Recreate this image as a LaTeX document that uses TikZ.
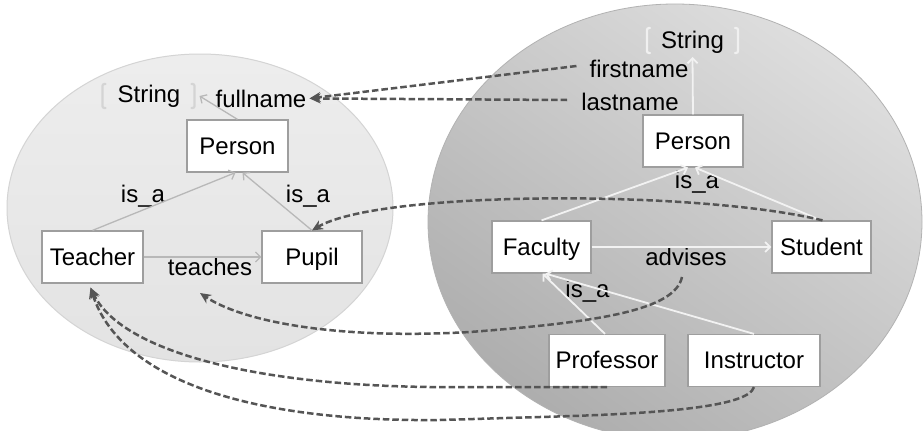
\documentclass[tikz,border=0pt]{standalone}
\usepackage{fontspec}
\setmainfont{Liberation Sans}
\usetikzlibrary{arrows.meta}
\definecolor{dashc}{HTML}{555555}
\begin{document}
\begin{tikzpicture}[x=1pt,y=-1pt,
  txt/.style={font=\fontsize{24}{28}\selectfont, inner sep=0pt},
  box/.style={txt, draw=black!38, line width=1.2pt, fill=white, minimum height=52pt, text height=21pt, text depth=5pt},
  lbl/.style={txt, anchor=base},
  ledge/.style={draw=black!28, line width=1.3pt, -{Straight Barb[length=5pt,width=10pt]}},
  redge/.style={draw=black!5, line width=1.8pt, -{Straight Barb[length=5pt,width=10pt]}},
  dlink/.style={draw=dashc, line width=2.5pt, dash pattern=on 6.5pt off 3pt, -{Stealth[length=11pt,width=10pt,inset=3.5pt]}},
  brk/.style={line width=2.2pt, line cap=round, rounded corners=2pt}
]
\useasboundingbox (0,0) rectangle (924,431);
\fill[white] (0,0) rectangle (924,431);

% ellipses
\shade[top color=black!7, bottom color=black!11, draw=black!17, line width=1pt] (200,208) ellipse [x radius=193, y radius=154];
\begin{scope}
\clip (0,0) rectangle (924,431);
\shade[top color=black!13, bottom color=black!32, shading angle=-35, draw=black!30, line width=0.8pt] (675,222) ellipse [x radius=247, y radius=218];
\end{scope}

% left nodes
\node[box, minimum width=101pt] (lperson) at (237.5,146) {Person};
\node[box, minimum width=101pt] (teacher) at (92.5,257) {Teacher};
\node[box, minimum width=100pt] (pupil) at (312,257) {Pupil};
\node[lbl] (lstring) at (149,102) {String};
\node[lbl] (fullname) at (261,107) {fullname};
\node[lbl] (isaL) at (143,202) {is\_a};
\node[lbl] (isaR) at (308,202) {is\_a};
\node[lbl] (teaches) at (210,275) {teaches};

% right nodes
\node[box, minimum width=100pt] (rperson) at (693,141) {Person};
\node[box, minimum width=99pt] (faculty) at (541.5,247) {Faculty};
\node[box, minimum width=99pt] (student) at (821.5,247) {Student};
\node[box, minimum width=116pt] (professor) at (607,360.5) {Professor};
\node[box, minimum width=132pt] (instructor) at (754,360.5) {Instructor};
\node[lbl] (rstring) at (692.5,48) {String};
\node[lbl] (firstname) at (639,77) {firstname};
\node[lbl] (lastname) at (630,110) {lastname};
\node[lbl] (isaP) at (697,188) {is\_a};
\node[lbl] (advises) at (686,265) {advises};
\node[lbl] (isaF) at (587.5,297) {is\_a};

% brackets round String
\draw[brk, draw=black!17] ([shift={(-12,-18)}]lstring.base west) -- ++(-3,0) -- ++(0,24) -- ++(3,0);
\draw[brk, draw=black!17] ([shift={(11,-18)}]lstring.base east) -- ++(3,0) -- ++(0,24) -- ++(-3,0);
\draw[brk, draw=black!6] ([shift={(-11,-20)}]rstring.base west) -- ++(-3,0) -- ++(0,25) -- ++(3,0);
\draw[brk, draw=black!6] ([shift={(11,-20)}]rstring.base east) -- ++(3,0) -- ++(0,25) -- ++(-3,0);

% left edges
\coordinate (lsr) at ([shift={(19,-6)}]lstring.base east);
\draw[ledge] (lperson.north) -- (lsr);
\draw[ledge] (teacher.north) -- ([shift={(-2,0)}]lperson.south);
\draw[ledge] (pupil.north) -- ([shift={(5,0)}]lperson.south);
\draw[ledge] (teacher.east) -- (pupil.west);

% right edges
\draw[redge] (rperson.north) -- ([shift={(0,9)}]rstring.base);
\draw[redge] (faculty.north) -- ([shift={(-5,0)}]rperson.south);
\draw[redge] (student.north) -- ([shift={(2,0)}]rperson.south);
\draw[redge] (faculty.east) -- (student.west);
\draw[redge] ([shift={(-2,0)}]professor.north) -- ([shift={(1,0)}]faculty.south);
\draw[redge] (instructor.north) -- ([shift={(4,0)}]faculty.south);

% dashed mappings
\draw[dlink] ([shift={(-13,-11)}]firstname.base west) -- ([shift={(3,0)}]fullname.east);
\draw[dlink] ([shift={(-14,-10)}]lastname.base west) -- ([shift={(3,0)}]fullname.east);
\draw[dlink] ([shift={(1,0)}]student.north) .. controls (700,190) and (380,190) .. (pupil.north);
\draw[dlink] ([shift={(-4,12)}]advises.base) .. controls (675,310) and (600,322) .. (470,332) .. controls (330,340) and (240,320) .. ([shift={(-10,18)}]teaches.base);
\draw[dlink] (professor.south) -- (430,387) .. controls (250,385) and (120,350) .. ([shift={(-2,4)}]teacher.south);
\draw[dlink] (instructor.south) .. controls (748,408) and (650,414) .. (540,417) -- (440,420) .. controls (250,422) and (120,380) .. ([shift={(-2,4)}]teacher.south);
\end{tikzpicture}
\end{document}
